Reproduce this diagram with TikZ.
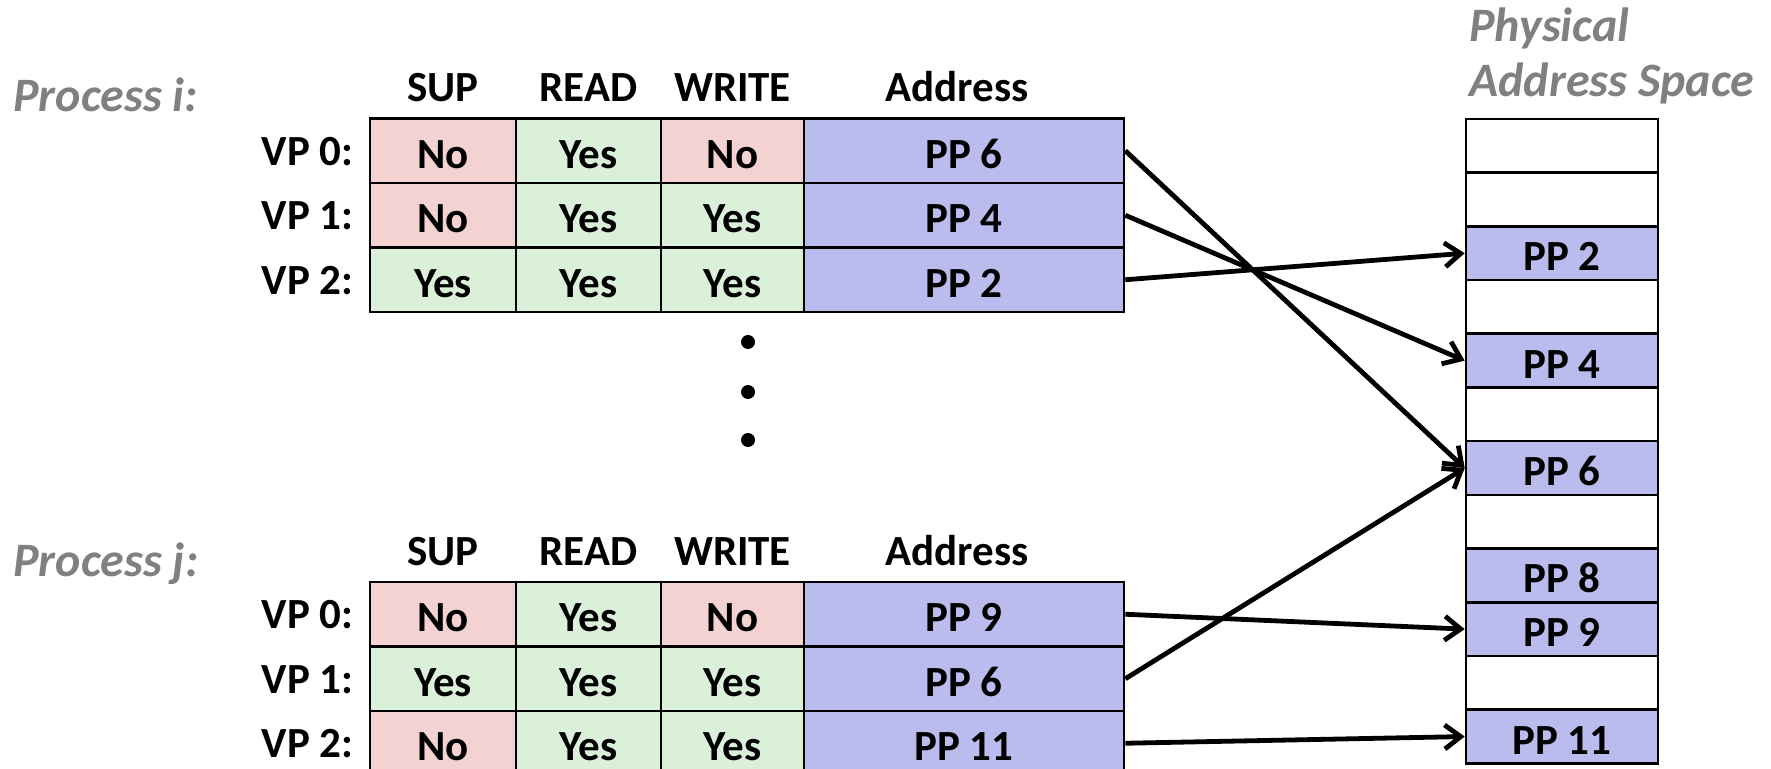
\documentclass[tikz,border=0pt]{standalone}
\usepackage{fontspec}
\setmainfont{Carlito}
\usetikzlibrary{arrows.meta}
\definecolor{noc}{RGB}{244,210,210}
\definecolor{yesc}{RGB}{219,240,217}
\definecolor{addrc}{RGB}{187,188,238}
\definecolor{grayt}{RGB}{128,128,128}
\tikzset{
  txt/.style={font=\fontsize{21.5}{25}\selectfont\bfseries},
  cellbox/.style={txt, draw=black, line width=1.3pt, inner sep=0pt, minimum height=32.25pt,
    text height=17.5pt, text depth=0pt},
  nocell/.style={cellbox, fill=noc},
  yescell/.style={cellbox, fill=yesc},
  addrcell/.style={cellbox, fill=addrc, minimum width=160pt},
  wA/.style={minimum width=73pt},
  wB/.style={minimum width=72.5pt},
  wC/.style={minimum width=71.5pt},
  slotbox/.style={txt, draw=black, line width=1.3pt, inner sep=0pt, minimum width=96pt, minimum height=26.85pt,
    text height=17.5pt, text depth=0pt},
  hdr/.style={txt, anchor=base, inner sep=0pt},
  vplab/.style={txt, anchor=base east, inner sep=0pt},
  proc/.style={font=\fontsize{24}{28}\selectfont\bfseries\itshape, text=grayt, anchor=base west, inner sep=0pt},
  arr/.style={line width=2.4pt, -{Straight Barb[length=8pt,width=12pt]}},
  vdot/.style={circle, fill=black, inner sep=0pt, minimum size=7pt}
}
\begin{document}
\begin{tikzpicture}[x=0.5pt,y=-0.5pt]
\useasboundingbox (0,0) rectangle (1771,769);
% titles
\node[proc] (pi) at (13,111.7) {Process i:};
\node[proc] (pj) at (13,576) {Process j:};
\node[proc] (ph1) at (1469,41.7) {Physical};
\node[proc] (ph2) at (1469,96.7) {Address Space};
% headers top
\node[hdr] (hiS) at (443,101.7) {SUP};
\node[hdr] (hiR) at (588.5,101.7) {READ};
\node[hdr] (hiW) at (732.5,101.7) {WRITE};
\node[hdr] (hiA) at (957,101.7) {Address};
% VP labels top
\node[vplab] (vi0) at (354,165.5) {VP 0:};
\node[vplab] (vi1) at (354,230) {VP 1:};
\node[vplab] (vi2) at (354,294.5) {VP 2:};
% top table
\node[nocell,wA] (i0s) at (443,150.75) {No};
\node[yescell,wB] (i0r) at (588.5,150.75) {Yes};
\node[nocell,wC] (i0w) at (732.5,150.75) {No};
\node[addrcell] (i0a) at (964,150.75) {PP 6};
\node[nocell,wA] (i1s) at (443,215.25) {No};
\node[yescell,wB] (i1r) at (588.5,215.25) {Yes};
\node[yescell,wC] (i1w) at (732.5,215.25) {Yes};
\node[addrcell] (i1a) at (964,215.25) {PP 4};
\node[yescell,wA] (i2s) at (443,279.75) {Yes};
\node[yescell,wB] (i2r) at (588.5,279.75) {Yes};
\node[yescell,wC] (i2w) at (732.5,279.75) {Yes};
\node[addrcell] (i2a) at (964,279.75) {PP 2};
% dots
\node[vdot] (d1) at (748,342) {};
\node[vdot] (d2) at (748,392) {};
\node[vdot] (d3) at (748,440) {};
% headers bottom
\node[hdr] (hjS) at (443,565.7) {SUP};
\node[hdr] (hjR) at (588.5,565.7) {READ};
\node[hdr] (hjW) at (732.5,565.7) {WRITE};
\node[hdr] (hjA) at (957,565.7) {Address};
% VP labels bottom
\node[vplab] (vj0) at (354,628.5) {VP 0:};
\node[vplab] (vj1) at (354,693) {VP 1:};
\node[vplab] (vj2) at (354,757.5) {VP 2:};
% bottom table
\node[nocell,wA] (j0s) at (443,614.25) {No};
\node[yescell,wB] (j0r) at (588.5,614.25) {Yes};
\node[nocell,wC] (j0w) at (732.5,614.25) {No};
\node[addrcell] (j0a) at (964,614.25) {PP 9};
\node[yescell,wA] (j1s) at (443,678.75) {Yes};
\node[yescell,wB] (j1r) at (588.5,678.75) {Yes};
\node[yescell,wC] (j1w) at (732.5,678.75) {Yes};
\node[addrcell] (j1a) at (964,678.75) {PP 6};
\node[nocell,wA] (j2s) at (443,743.25) {No};
\node[yescell,wB] (j2r) at (588.5,743.25) {Yes};
\node[yescell,wC] (j2w) at (732.5,743.25) {Yes};
\node[addrcell] (j2a) at (964,743.25) {PP 11};
% physical memory
\foreach \k/\t/\c in {0//white,1//white,2/PP 2/addrc,3//white,4/PP 4/addrc,5//white,6/PP 6/addrc,7//white,8/PP 8/addrc,9/PP 9/addrc,10//white,11/PP 11/addrc}{
  \pgfmathsetmacro\yy{119+53.7*(\k+0.5)}
  \node[slotbox, fill=\c] (m\k) at (1562,\yy) {\t};
}
% arrows
\draw[arr] (i0a.east) -- (m6.west);
\draw[arr] (i1a.east) -- (m4.west);
\draw[arr] (i2a.east) -- (m2.west);
\draw[arr] (j0a.east) -- (m9.west);
\draw[arr] (j1a.east) -- (m6.west);
\draw[arr] (j2a.east) -- (m11.west);
\end{tikzpicture}
\end{document}
